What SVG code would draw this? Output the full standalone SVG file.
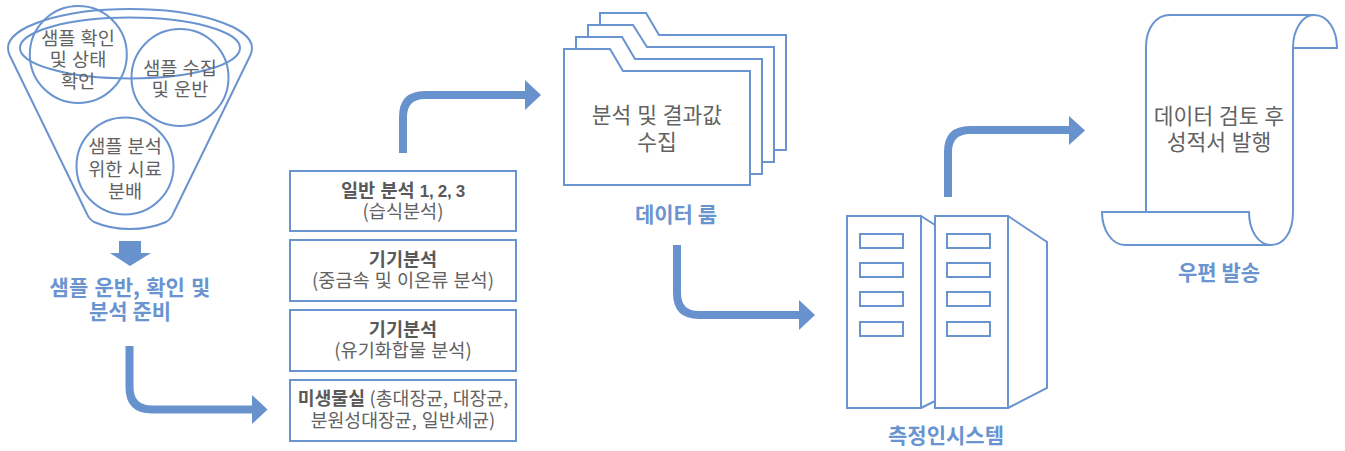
<svg xmlns="http://www.w3.org/2000/svg" width="1345" height="451" viewBox="0 0 1345 451">
<style>
text{font-family:"Noto Sans CJK KR","Noto Sans",sans-serif;text-anchor:middle;fill:#626262;font-size:18.6px;word-spacing:1px}
.b{font-weight:700;fill:#595959}
.d{font-family:"Liberation Sans",sans-serif;font-size:17px;letter-spacing:-0.3px;word-spacing:0}
.m{font-size:21.5px}
.s{fill:none;stroke:#6a94d0;stroke-width:2}
.l{fill:#6a94d0;font-weight:700;font-size:21px;word-spacing:0}
.a{fill:none;stroke:#6792cd;stroke-width:8}
.h{fill:#6792cd}
</style>
<rect width="1345" height="451" fill="#fff"/>
<g id="connectors">
<path class="a" d="M129.500 346V387Q129.500 409.500 152 409.500H254"/><path class="h" d="M252 395L267.500 409.500L252 424Z"/>
<path class="a" d="M403 153V117Q403 95 425 95H527"/><path class="h" d="M525 80L541 95L525 110Z"/>
<path class="a" d="M677 245V293Q677 315 699 315H801"/><path class="h" d="M799 300L815 315L799 330Z"/>
<path class="a" d="M948 197V152Q948 130 970 130H1071"/><path class="h" d="M1069 116L1085 130.500L1069 145Z"/>
<path class="h" d="M119 241H141V253H151L130 266L110 253H119Z"/>
</g>
<g id="funnel">
<path class="s" d="M8 48A122 39 0 0 1 252 48Q252 52 250 56L173 214Q171 219 166 222Q150 229 130 229Q110 229 94 222Q89 219 87 214L10 56Q8 52 8 48Z"/>
<ellipse class="s" cx="130" cy="48" rx="110" ry="30.500"/>
<circle class="s" cx="78.300" cy="54.500" r="48.500"/>
<circle class="s" cx="180" cy="77.500" r="48.500"/>
<circle class="s" cx="125" cy="166" r="48.500"/>
<text x="78" y="45">샘플 확인</text><text x="78" y="66">및 상태</text><text x="78" y="88">확인</text>
<text x="180" y="75">샘플 수집</text><text x="180" y="96">및 운반</text>
<text x="125" y="153">샘플 분석</text><text x="125" y="176">위한 시료</text><text x="125" y="198">분배</text>
<text class="l" x="130" y="295" style="word-spacing:1.500px">샘플 운반, 확인 및</text><text class="l" x="130" y="319">분석 준비</text>
</g>
<g id="analysis">
<rect class="s" x="290" y="171" width="226" height="60"/>
<rect class="s" x="290" y="240" width="226" height="61"/>
<rect class="s" x="290" y="310" width="226" height="61"/>
<rect class="s" x="290" y="380" width="226" height="61"/>
<text class="b" x="403" y="197">일반 분석 <tspan class="d">1, 2, 3</tspan></text><text x="403" y="218">(습식분석)</text>
<text class="b" x="403" y="266">기기분석</text><text x="403" y="287">(중금속 및 이온류 분석)</text>
<text class="b" x="403" y="336">기기분석</text><text x="403" y="357">(유기화합물 분석)</text>
<text x="403" y="405" style="font-size:18.3px;word-spacing:0.500px"><tspan class="b">미생물실</tspan> (총대장균, 대장균,</text><text x="403" y="427" style="font-size:18.3px">분원성대장균, 일반세균)</text>
</g>
<g id="folder">
<path class="s" d="M600 25V13H646L659 35H786V150H774"/>
<path class="s" d="M588 37V25H633L647 47H774V162H762"/>
<path class="s" d="M576 49V37H622L635 59H762V174H750"/>
<path class="s" d="M564 185V49H610L623 71H750V185Z"/>
<text class="m" x="657" y="123">분석 및 결과값</text><text class="m" x="657" y="150">수집</text>
<text class="l" x="676" y="222">데이터 룸</text>
</g>
<g id="server">
<rect class="s" x="847" y="216" width="74" height="192"/>
<rect class="s" x="935" y="216" width="73" height="192"/>
<path class="s" d="M921 216L935 225M921 408L935 401M1008 216L1047 242V388L1008 408"/>
<rect class="s" x="860" y="234" width="43" height="14"/><rect class="s" x="860" y="263" width="43" height="14"/><rect class="s" x="860" y="292" width="43" height="14"/><rect class="s" x="860" y="322" width="43" height="14"/>
<rect class="s" x="947" y="234" width="43" height="14"/><rect class="s" x="947" y="263" width="43" height="14"/><rect class="s" x="947" y="292" width="43" height="14"/><rect class="s" x="947" y="322" width="43" height="14"/>
<text class="l" x="946" y="443">측정인시스템</text>
</g>
<g id="scroll">
<path class="s" d="M1146 212V47C1146 28 1156 15 1170 15H1314C1328 15 1337 30 1337 48H1293C1293 30 1302 15 1314 15M1293 48V212C1293 232 1284 245 1271 245H1125C1112 245 1102 230 1102 212H1249C1249 230 1258 245 1271 245"/>
<text class="m" x="1219" y="124">데이터 검토 후</text><text class="m" x="1219" y="150">성적서 발행</text>
<text class="l" x="1219" y="280">우편 발송</text>
</g>
</svg>
